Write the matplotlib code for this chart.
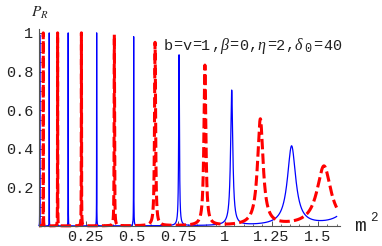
import numpy as np
import matplotlib.pyplot as plt
from matplotlib.ticker import FixedLocator

plt.rcParams["lines.scale_dashes"] = False
plt.rcParams["mathtext.fontset"] = "stix"

# resonance peaks: position (m^2), height, half width
blue_pos = [0.004, 0.055, 0.157, 0.31, 0.509, 0.753, 1.036, 1.358, 1.71]
blue_peak = [0.99, 1.0, 1.0, 1.0, 0.98, 0.885, 0.70, 0.41, 0.22]
blue_hw = [0.0002, 0.0002, 0.0003, 0.0004, 0.0006, 0.0024, 0.007, 0.027, 0.055]

red_pos = [0.023, 0.10, 0.228, 0.405, 0.624, 0.892, 1.19, 1.532]
red_peak = [1.0, 1.0, 1.0, 0.99, 0.95, 0.83, 0.55, 0.31]
red_hw = [0.0003, 0.0004, 0.0006, 0.0012, 0.0034, 0.0062, 0.018, 0.045]

m_max = 1.6
xticks = [0.25, 0.5, 0.75, 1.0, 1.25, 1.5]
xticklabels = ["0.25", "0.5", "0.75", "1", "1.25", "1.5"]
yticks = [0.2, 0.4, 0.6, 0.8, 1.0]
yticklabels = ["0.2", "0.4", "0.6", "0.8", "1"]


def curve(pos, peak, hw):
    m = np.linspace(0, m_max, 160001)
    m = np.sort(np.concatenate([m, [p for p in pos if p < m_max]]))
    p = np.zeros_like(m)
    for c, h, g in zip(pos, peak, hw):
        p += h / (1 + ((m - c) / g) ** 2)
    return m, p


W, H = 382, 246
fig = plt.figure(figsize=(W / 100, H / 100), dpi=100)
ax = fig.add_axes([39 / W, 20 / H, 1.62 * 186 / W, 1.02 * 193 / H])

mb, pb = curve(blue_pos, blue_peak, blue_hw)
mr, pr = curve(red_pos, red_peak, red_hw)
ax.plot(mb, pb, color="#0000ff", lw=0.9, clip_on=False)
ax.plot(mr, pr, color="#ff0000", lw=2.2, dashes=(7.5, 3), clip_on=False)

ax.set_xlim(0, 1.62)
ax.set_ylim(0, 1.02)
for s in ["top", "right"]:
    ax.spines[s].set_visible(False)
for s in ["left", "bottom"]:
    ax.spines[s].set_color("#555555")
    ax.spines[s].set_linewidth(0.8)

mono = dict(family="Liberation Mono", size=11, color="#222222")
ax.set_xticks(xticks, labels=xticklabels, **mono)
ax.set_yticks(yticks, labels=yticklabels, **mono)
ax.xaxis.set_minor_locator(FixedLocator([x for x in np.arange(0.05, 1.61, 0.05)
                                         if min(abs(x - t) for t in xticks) > 1e-6]))
ax.yaxis.set_minor_locator(FixedLocator([y for y in np.arange(0.05, 1.01, 0.05)
                                         if min(abs(y - t) for t in yticks) > 1e-6]))
ax.tick_params(which="major", direction="in", length=3.5, width=0.7, color="#555555")
ax.tick_params(which="minor", direction="in", length=1.8, width=0.6, color="#555555")
ax.tick_params(axis="x", which="major", pad=3)
ax.tick_params(axis="y", which="major", pad=4)


def put(x, y_top, s, **kw):
    fig.text(x / W, (H - y_top) / H, s, ha="left", va="baseline", **kw)


# axis labels
put(31, 17, r"$P_R$", size=11, color="#222222")
put(354, 231, "m", family="Liberation Mono", size=14, color="#222222")
put(370, 221, "2", family="Liberation Mono", size=9, color="#222222")

# parameter line, one monospace cell per character
greek = dict(family="Liberation Serif", style="italic", size=11.5, color="#222222")
pieces = [("b", mono), ("=", mono), ("v", mono), ("=", mono), ("1", mono), (",", mono),
          ("\u03b2", greek), ("=", mono), ("0", mono), (",", mono),
          ("\u03b7", greek), ("=", mono), ("2", mono), (",", mono),
          ("\u03b4", greek), ("sub0", None), ("=", mono), ("4", mono), ("0", mono)]
x = 164
for s, props in pieces:
    if s == "sub0":
        put(x, 52.5, "0", family="Liberation Mono", size=8.5, color="#222222")
    else:
        put(x, 49.5, s, **props)
    x += 9.35

fig.savefig("out.png", dpi=100)
plt.close()
